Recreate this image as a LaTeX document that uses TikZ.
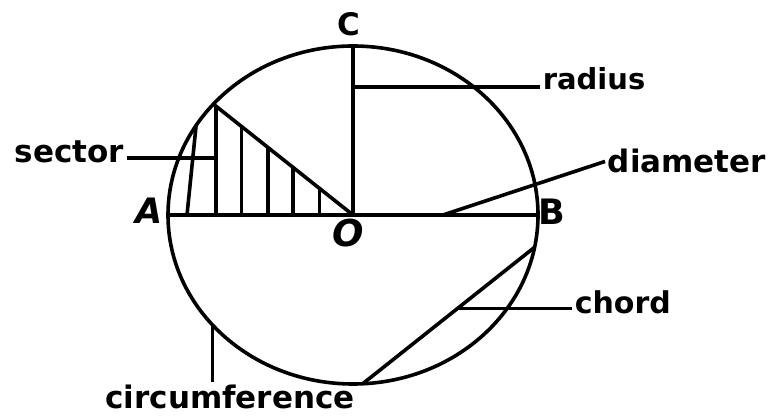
\documentclass[tikz,border=0pt]{standalone}
\usepackage{fontspec}
\setmainfont{DejaVu Sans}
\usepackage{tikz}
\usetikzlibrary{calc}

\begin{document}
\begin{tikzpicture}[x=1pt,y=1pt,line width=3.6pt,
  lbl/.style={font=\bfseries\fontsize{#1}{#1}\selectfont,inner sep=1pt},
  lbl/.default=31,
  slbl/.style={lbl=#1,font=\bfseries\itshape\fontsize{#1}{#1}\selectfont},
  slbl/.default=31]
  \useasboundingbox (0,0) rectangle (770,415);
  \coordinate (O) at (353,200);
  \draw (O) ellipse [x radius=185,y radius=169];
  \coordinate (A) at ($(O)+(180:185 and 169)$);
  \coordinate (B) at ($(O)+(0:185 and 169)$);
  \coordinate (C) at ($(O)+(90:185 and 169)$);
  \coordinate (P) at ($(O)+(139:185 and 169)$);
  \coordinate (Q) at ($(O)+(148:185 and 169)$);
  \coordinate (D1) at ($(O)+(-87:185 and 169)$);
  \coordinate (D2) at ($(O)+(-11:185 and 169)$);
  \draw (A) -- (B);
  \draw (O) -- (C);
  \draw (P) -- (O);
  \draw (187,200) -- (Q);
  \foreach \f in {0.02,0.2,0.39,0.57,0.76}{%
    \path ($(P)!\f!(O)$) coordinate (h);
    \draw (h) -- (h |- O);
  }
  \draw (D1) -- (D2);
  \node[lbl] (Clbl) at (349,391) {C};
  \node[slbl=35] (Albl) at (149,204) {A};
  \node[lbl=35] (Blbl) at (552,203) {B};
  \node[slbl=37] (Olbl) at (348,182) {O};
  \node[lbl=29,anchor=base west] (radius) at (540,325) {radius};
  \coordinate (rfoot) at (353,328);
  \draw (rfoot) -- ([yshift=3pt]radius.base west);
  \node[lbl,anchor=base east] (sector) at (127,252) {sector};
  \coordinate (sfoot) at (215,257);
  \draw (sfoot) -- ([yshift=5pt]sector.base east);
  \node[lbl,anchor=base west] (diameter) at (605,242) {diameter};
  \coordinate (dfoot) at (443,200);
  \draw (dfoot) -- (diameter.west);
  \node[lbl=30,anchor=base west] (chord) at (572,102) {chord};
  \coordinate (cfoot) at ($(D1)!0.55!(D2)$);
  \draw (cfoot) -- (cfoot -| chord.west);
  \node[lbl,anchor=base] (circ) at (230,7) {circumference};
  \coordinate (cf) at ($(O)+(220.6:185 and 169)$);
  \draw (cf) -- (cf |- circ.north);
\end{tikzpicture}
\end{document}
